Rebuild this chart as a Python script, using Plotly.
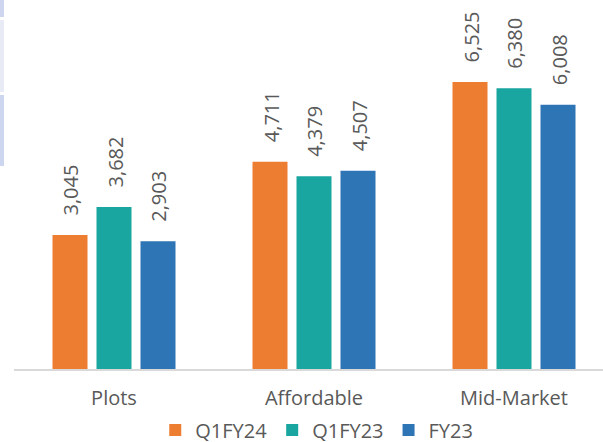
import plotly.graph_objects as go

categories = ["Plots", "Affordable", "Mid-Market"]
q1fy24 = [3045, 4711, 6525]
q1fy23 = [3682, 4379, 6380]
fy23 = [2903, 4507, 6008]

series = [("Q1FY24", q1fy24, "#ed7d31"),
          ("Q1FY23", q1fy23, "#1aa6a0"),
          ("FY23", fy23, "#2e75b6")]

fig = go.Figure()
annotations = []
for i, (name, vals, color) in enumerate(series):
    fig.add_trace(go.Bar(x=categories, y=vals, name=name, marker_color=color,
                         marker_line_width=0))
    # value labels sit above each bar, rotated
    for cat, v in zip(categories, vals):
        annotations.append(dict(x=cat, y=v, text=f"{v:,}", showarrow=False,
                                textangle=-90, yanchor="bottom", xanchor="center",
                                xshift=(i - 1) * 44 + 1, yshift=17,
                                font=dict(size=20, color="#595959")))

# thin light strips on the left edge of the original image
strips = [(0, 17, "#cdd6ee"), (20, 92, "#e8eaf6"), (95, 166, "#ccd6ee")]
for y0, y1, c in strips:
    fig.add_shape(type="rect", xref="paper", yref="paper",
                  x0=-14 / 589, x1=-10 / 589, y0=1 - y1 / 369, y1=1 - y0 / 369,
                  fillcolor=c, line_width=0, layer="above")

fig.update_layout(
    width=603, height=442,
    margin=dict(l=14, r=0, t=0, b=73, autoexpand=False),
    paper_bgcolor="white", plot_bgcolor="white",
    barmode="group", bargap=0.34, bargroupgap=0.2045,
    font=dict(family="Open Sans", color="#595959", size=20),
    annotations=annotations,
    showlegend=True,
    legend=dict(orientation="h", x=0.514, xanchor="center",
                yref="container", y=1 - 430 / 442, yanchor="middle",
                bgcolor="rgba(0,0,0,0)",
                font=dict(size=20, color="#595959"), itemwidth=30,
                traceorder="normal"),
)
fig.update_xaxes(range=[-0.5, 2.445], showline=True, linecolor="#d9d9d9", linewidth=2,
                 ticks="", ticklabelstandoff=10, tickfont=dict(size=20, color="#595959"),
                 showgrid=False, zeroline=False, automargin=False)
fig.update_yaxes(range=[0, 8386], visible=False)

fig.write_html("out.html", config={"displayModeBar": False},
               post_script="document.body.style.margin='0';")
